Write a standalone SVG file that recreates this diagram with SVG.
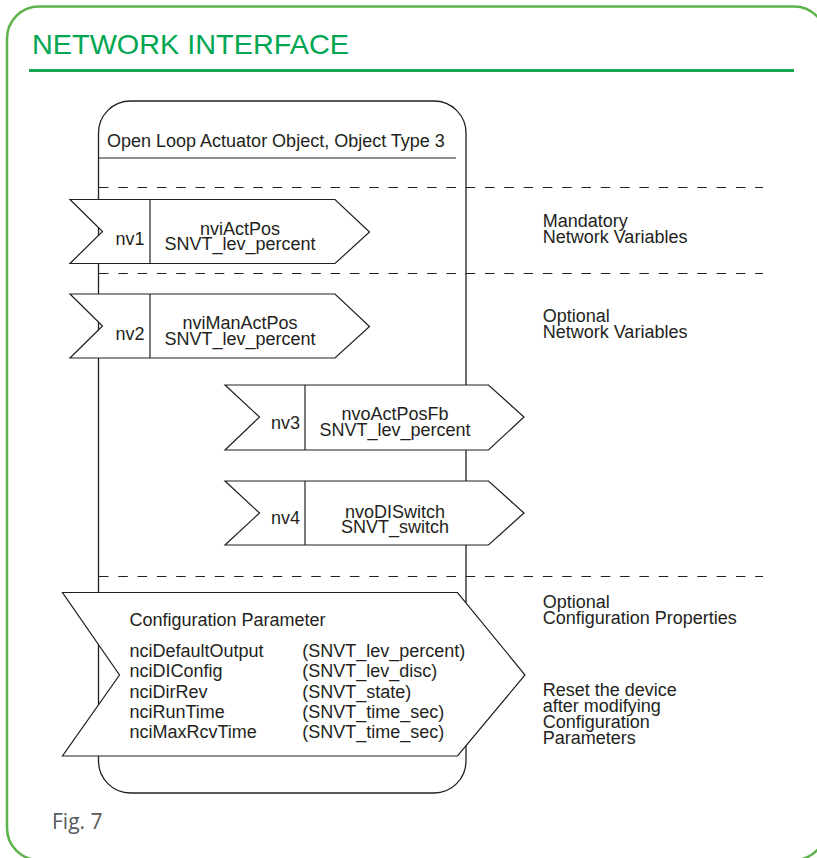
<svg xmlns="http://www.w3.org/2000/svg" width="817" height="858" viewBox="0 0 817 858">
<style>
.t{font-family:"Liberation Sans",Arial,sans-serif;font-size:18px;fill:#231f20}
.c{text-anchor:middle}
.e{text-anchor:end}
.shape{fill:#fff;stroke:#231f20;stroke-width:1.2}
.ln{stroke:#231f20;stroke-width:1.2;fill:none}
.dash{stroke:#231f20;stroke-width:1.2;stroke-dasharray:9.5 9.8;fill:none}
</style>
<rect x="0" y="0" width="817" height="858" fill="#fff"/>
<g id="frame">
<rect x="7" y="6.5" width="819" height="853.5" rx="32" ry="32" fill="none" stroke="#5cb34a" stroke-width="2.5"/>
<text x="32" y="53.5" font-family="'Liberation Sans',Arial,sans-serif" font-size="28" fill="#00a651" textLength="317" lengthAdjust="spacingAndGlyphs">NETWORK INTERFACE</text>
<line x1="29" y1="70.5" x2="794" y2="70.5" stroke="#1aa64f" stroke-width="3"/>
<text x="52" y="828.5" font-family="'Open Sans',Lato,sans-serif" font-size="21" fill="#58595b">Fig. 7</text>
</g>
<g id="object">
<rect x="98.5" y="101" width="367.5" height="692" rx="32" ry="32" fill="none" stroke="#231f20" stroke-width="1.3"/>
<line class="ln" x1="99" y1="158" x2="456" y2="158"/>
<text class="t" x="107" y="146.5">Open Loop Actuator Object, Object Type 3</text>
</g>
<g id="connectors">
<line class="dash" x1="99" y1="187.5" x2="763" y2="187.5"/>
<line class="dash" x1="99" y1="273.5" x2="763" y2="273.5"/>
<line class="dash" x1="99" y1="576.5" x2="763" y2="576.5"/>
</g>
<g id="nv1">
<path class="shape" d="M70,199.5 L335,199.5 L369.5,232 L335,263.5 L70,263.5 L102.5,231.5 Z"/>
<line class="ln" x1="150" y1="199.5" x2="150" y2="263.5"/>
<text class="t e" x="144.5" y="245">nv1</text>
<text class="t c" x="240" y="234.5">nviActPos</text>
<text class="t c" x="240" y="250">SNVT_lev_percent</text>
</g>
<g id="nv2">
<path class="shape" d="M70,294 L335,294 L369.5,326.5 L335,358 L70,358 L102.5,326 Z"/>
<line class="ln" x1="150" y1="294" x2="150" y2="358"/>
<text class="t e" x="144.5" y="339.5">nv2</text>
<text class="t c" x="240" y="328.5">nviManActPos</text>
<text class="t c" x="240" y="344.5">SNVT_lev_percent</text>
</g>
<g id="nv3">
<path class="shape" d="M225,385 L488.5,385 L524,417 L488.5,450 L225,450 L259.5,417 Z"/>
<line class="ln" x1="305" y1="385" x2="305" y2="450"/>
<text class="t e" x="300" y="428.5">nv3</text>
<text class="t c" x="395" y="420">nvoActPosFb</text>
<text class="t c" x="395" y="435.7">SNVT_lev_percent</text>
</g>
<g id="nv4">
<path class="shape" d="M225,481 L488.5,481 L524,513 L488.5,545 L225,545 L259.5,513 Z"/>
<line class="ln" x1="305" y1="481" x2="305" y2="545"/>
<text class="t e" x="300" y="524">nv4</text>
<text class="t c" x="395" y="517.5">nvoDISwitch</text>
<text class="t c" x="395" y="533">SNVT_switch</text>
</g>
<g id="config">
<path class="shape" d="M62.5,592.5 L457.5,592.5 L525,675 L457.5,756 L62.5,756 L119.5,675 Z"/>
<text class="t" x="129.5" y="625.5">Configuration Parameter</text>
<text class="t" x="129.5" y="656.7">nciDefaultOutput</text>
<text class="t" x="129.5" y="677.2">nciDIConfig</text>
<text class="t" x="129.5" y="697.6">nciDirRev</text>
<text class="t" x="129.5" y="718">nciRunTime</text>
<text class="t" x="129.5" y="738.4">nciMaxRcvTime</text>
<text class="t" x="302.3" y="656.7">(SNVT_lev_percent)</text>
<text class="t" x="302.3" y="677.2">(SNVT_lev_disc)</text>
<text class="t" x="302.3" y="697.6">(SNVT_state)</text>
<text class="t" x="302.3" y="718">(SNVT_time_sec)</text>
<text class="t" x="302.3" y="738.4">(SNVT_time_sec)</text>
</g>
<g id="labels">
<text class="t" x="542.7" y="226.7">Mandatory</text>
<text class="t" x="542.7" y="242.7">Network Variables</text>
<text class="t" x="542.7" y="321.7">Optional</text>
<text class="t" x="542.7" y="337.5">Network Variables</text>
<text class="t" x="542.7" y="608.3">Optional</text>
<text class="t" x="542.7" y="624.2">Configuration Properties</text>
<text class="t" x="542.7" y="696">Reset the device</text>
<text class="t" x="542.7" y="712">after modifying</text>
<text class="t" x="542.7" y="728.3">Configuration</text>
<text class="t" x="542.7" y="744.3">Parameters</text>
</g>
</svg>
